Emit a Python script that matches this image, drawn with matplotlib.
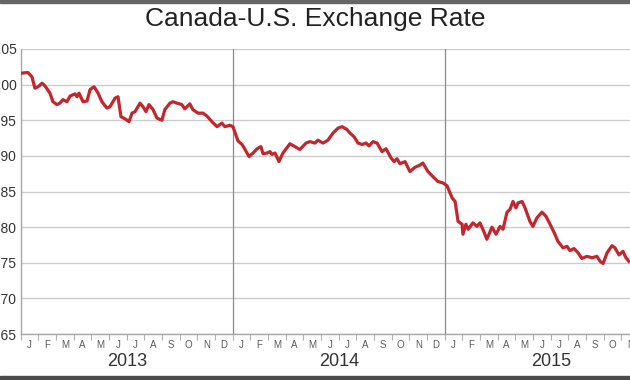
import matplotlib
matplotlib.use('Agg')
import matplotlib.pyplot as plt
import numpy as np
from matplotlib.transforms import blended_transform_factory
from matplotlib.patches import Rectangle

# ---------------- data (decimal year, CAD in USD) ----------------
t_2013 = [2013.000, 2013.034, 2013.053, 2013.067, 2013.082, 2013.101, 2013.115, 2013.138,
          2013.152, 2013.171, 2013.185, 2013.199, 2013.218, 2013.233, 2013.256, 2013.266,
          2013.275, 2013.294, 2013.313, 2013.327, 2013.346, 2013.365, 2013.383, 2013.407,
          2013.421, 2013.445, 2013.459, 2013.473, 2013.492, 2013.511, 2013.525, 2013.539,
          2013.563, 2013.577, 2013.591, 2013.605, 2013.624, 2013.643, 2013.666, 2013.680,
          2013.704, 2013.718, 2013.737, 2013.760, 2013.774, 2013.798, 2013.812, 2013.836,
          2013.860, 2013.878, 2013.902, 2013.926, 2013.949, 2013.963, 2013.987]
rate_2013 = [1.016, 1.017, 1.011, 0.995, 0.997, 1.002, 0.998, 0.988,
             0.976, 0.972, 0.974, 0.979, 0.976, 0.984, 0.987, 0.983,
             0.988, 0.976, 0.977, 0.993, 0.997, 0.988, 0.976, 0.967,
             0.969, 0.981, 0.983, 0.955, 0.952, 0.948, 0.960, 0.962,
             0.974, 0.969, 0.962, 0.972, 0.965, 0.953, 0.950, 0.965,
             0.974, 0.976, 0.974, 0.972, 0.966, 0.973, 0.965, 0.960,
             0.960, 0.956, 0.948, 0.941, 0.946, 0.941, 0.943]

t_2014 = [2014.001, 2014.025, 2014.044, 2014.058, 2014.077, 2014.096, 2014.115, 2014.133,
          2014.143, 2014.162, 2014.176, 2014.185, 2014.200, 2014.218, 2014.237, 2014.270,
          2014.294, 2014.317, 2014.346, 2014.364, 2014.388, 2014.402, 2014.426, 2014.449,
          2014.473, 2014.497, 2014.516, 2014.539, 2014.553, 2014.572, 2014.591, 2014.610,
          2014.629, 2014.643, 2014.662, 2014.681, 2014.704, 2014.723, 2014.747, 2014.761,
          2014.775, 2014.789, 2014.813, 2014.836, 2014.860, 2014.883, 2014.897, 2014.921,
          2014.944, 2014.968, 2014.992]
rate_2014 = [0.941, 0.921, 0.916, 0.909, 0.899, 0.904, 0.910, 0.913,
             0.903, 0.904, 0.906, 0.902, 0.904, 0.892, 0.904, 0.917,
             0.913, 0.909, 0.918, 0.920, 0.918, 0.922, 0.918, 0.922,
             0.932, 0.939, 0.941, 0.937, 0.932, 0.927, 0.918, 0.916,
             0.918, 0.914, 0.920, 0.918, 0.906, 0.910, 0.897, 0.892,
             0.896, 0.889, 0.892, 0.878, 0.884, 0.887, 0.890, 0.878,
             0.871, 0.864, 0.862]

t_2015 = [2015.011, 2015.035, 2015.049, 2015.063, 2015.082, 2015.086, 2015.100, 2015.111,
          2015.133, 2015.152, 2015.166, 2015.180, 2015.199, 2015.223, 2015.242, 2015.261,
          2015.275, 2015.294, 2015.308, 2015.322, 2015.336, 2015.346, 2015.365, 2015.379,
          2015.402, 2015.416, 2015.435, 2015.459, 2015.478, 2015.497, 2015.520, 2015.534,
          2015.558, 2015.577, 2015.591, 2015.610, 2015.629, 2015.647, 2015.671, 2015.695,
          2015.718, 2015.733, 2015.747, 2015.766, 2015.789, 2015.803, 2015.822, 2015.841,
          2015.855, 2015.869]
rate_2015 = [0.858, 0.841, 0.836, 0.808, 0.804, 0.790, 0.804, 0.797,
             0.806, 0.801, 0.806, 0.797, 0.783, 0.800, 0.790, 0.801,
             0.797, 0.821, 0.825, 0.836, 0.827, 0.834, 0.836, 0.827,
             0.808, 0.801, 0.813, 0.821, 0.815, 0.804, 0.790, 0.780,
             0.771, 0.773, 0.767, 0.770, 0.764, 0.756, 0.759, 0.757,
             0.759, 0.752, 0.749, 0.764, 0.774, 0.771, 0.761, 0.766,
             0.757, 0.752]

years = [2013, 2014, 2015]
year_labels = ['2013', '2014', '2015']
month_labels = ['J', 'F', 'M', 'A', 'M', 'J', 'J', 'A', 'S', 'O', 'N', 'D']
y_ticks = [0.65, 0.70, 0.75, 0.80, 0.85, 0.90, 0.95, 1.00, 1.05]
title = 'Canada-U.S. Exchange Rate'

# ---------------- figure ----------------
plt.rcParams['font.family'] = ['Liberation Sans', 'DejaVu Sans']
W, H = 630, 380
fig = plt.figure(figsize=(W / 100, H / 100), dpi=100)
fig.patch.set_facecolor('white')

ax_left_px, ax_top_px, ax_bot_px = 20.7, 49, 334
px_per_year = 212
ax = fig.add_axes([ax_left_px / W, (H - ax_bot_px) / H,
                   px_per_year * 3 / W, (ax_bot_px - ax_top_px) / H])

t = np.array(t_2013 + t_2014 + t_2015)
r = np.array(rate_2013 + rate_2014 + rate_2015)

ax.set_xlim(years[0], years[-1] + 1)
ax.set_ylim(y_ticks[0], y_ticks[-1])

ax.plot(t, r, color='#c4262e', lw=2.3, solid_joinstyle='round', zorder=3)

# grid
ax.set_yticks(y_ticks)
ax.set_yticklabels([f'{v:.2f}' for v in y_ticks], fontsize=10, color='#333333')
ax.yaxis.grid(True, color='#cccccc', lw=1.0)
ax.set_axisbelow(True)
ax.tick_params(axis='y', length=0, pad=3)

for yv in years[1:]:
    ax.axvline(yv, color='#8a8a8a', lw=0.9, zorder=2)

for s in ['top', 'right']:
    ax.spines[s].set_visible(False)
for s in ['left', 'bottom']:
    ax.spines[s].set_color('#a8a8a8')
    ax.spines[s].set_linewidth(1.0)

# month ticks
month_edges = [y + m / 12 for y in years for m in range(12)] + [years[-1] + 1]
ax.set_xticks(month_edges)
ax.set_xticklabels([])
ax.tick_params(axis='x', length=4, width=0.8, color='#b0b0b0', direction='out')

trans = blended_transform_factory(ax.transData, ax.transAxes)
ax_h_px = ax_bot_px - ax_top_px
for y in years:
    for m, lab in enumerate(month_labels):
        ax.text(y + (m + 0.5) / 12, -11 / ax_h_px, lab, transform=trans,
                ha='center', va='center', fontsize=7, color='#5a5a5a', clip_on=False)
    ax.text(y + 0.5, -28 / ax_h_px, year_labels[years.index(y)], transform=trans,
            ha='center', va='center', fontsize=13, color='#333333', clip_on=False)

fig.text(0.5, 1 - 19 / H, title, ha='center', va='center', fontsize=19, color='#222222')

# borders
fig.patches.append(Rectangle((0, 1 - 3 / H), 1, 3 / H, transform=fig.transFigure,
                             color='#666666', zorder=10))
fig.patches.append(Rectangle((0, 0), 1, 4 / H, transform=fig.transFigure,
                             color='#4a4a4a', zorder=10))

fig.savefig('out.png', dpi=100)
